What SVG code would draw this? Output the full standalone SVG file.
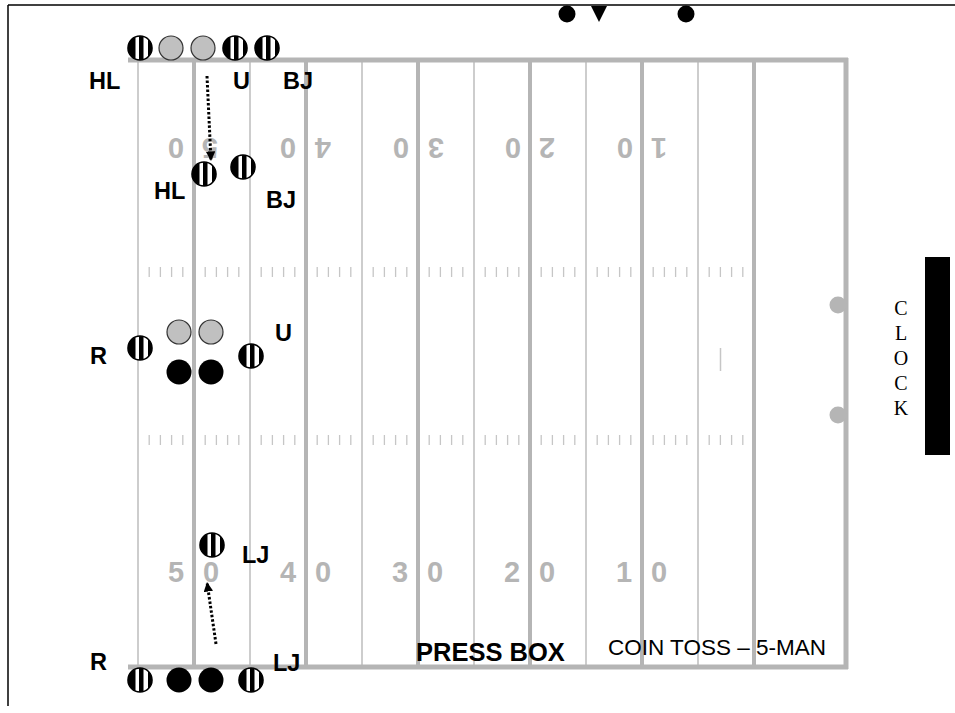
<svg xmlns="http://www.w3.org/2000/svg" xmlns:xlink="http://www.w3.org/1999/xlink" width="955" height="713" viewBox="0 0 955 713">
<style>
.thick{stroke:#b5b5b5;stroke-width:4;fill:none}
.thin{stroke:#cdcdcd;stroke-width:2;fill:none}
.side{stroke:#b5b5b5;stroke-width:5;fill:none}
.hash{stroke:#c6c6c6;stroke-width:1.3}
.num{font-family:"Liberation Sans",Arial,sans-serif;font-weight:bold;font-size:29px;fill:#b5b5b5;text-anchor:middle}
.lbl{font-family:"Liberation Sans",Arial,sans-serif;font-weight:bold;font-size:23.5px;fill:#000}
.clk{font-family:"Liberation Serif","Times New Roman",serif;font-size:20px;fill:#000;text-anchor:middle}
.gray{fill:#c0c0c0;stroke:#333;stroke-width:1.2}
.blk{fill:#000}
.dot{stroke:#000;stroke-width:3;stroke-dasharray:2.5 2;fill:none}
</style>
<defs>
<clipPath id="cc"><circle r="12"/></clipPath>
<g id="ref">
<circle r="12" fill="#fff"/>
<g clip-path="url(#cc)" fill="#000">
<rect x="-12" y="-12" width="7.5" height="24"/>
<rect x="-1" y="-12" width="4.5" height="24"/>
<rect x="8" y="-12" width="4" height="24"/>
</g>
<circle r="12" fill="none" stroke="#000" stroke-width="1.6"/>
</g>
<marker id="ah" viewBox="0 0 10 10" refX="10" refY="5" markerWidth="3.2" markerHeight="3.2" orient="auto" markerUnits="strokeWidth">
<path d="M0,0 L10,5 L0,10 z" fill="#000"/>
</marker>
</defs>
<rect width="955" height="713" fill="#fff"/>
<g id="border" stroke="#000" stroke-width="1.5">
<line x1="8" y1="5" x2="955" y2="5"/>
<line x1="8" y1="5" x2="8" y2="706"/>
</g>
<g id="field">
<g class="thin">
<line x1="138" y1="60" x2="138" y2="667"/>
<line x1="250" y1="60" x2="250" y2="667"/>
<line x1="362" y1="60" x2="362" y2="667"/>
<line x1="474" y1="60" x2="474" y2="667"/>
<line x1="586" y1="60" x2="586" y2="667"/>
<line x1="698" y1="60" x2="698" y2="667"/>
</g>
<g class="thick">
<line x1="194" y1="60" x2="194" y2="667"/>
<line x1="306" y1="60" x2="306" y2="667"/>
<line x1="418" y1="60" x2="418" y2="667"/>
<line x1="530" y1="60" x2="530" y2="667"/>
<line x1="642" y1="60" x2="642" y2="667"/>
<line x1="754" y1="60" x2="754" y2="667"/>
</g>
<g class="side">
<line x1="128" y1="60" x2="848" y2="60"/>
<line x1="128" y1="667" x2="848" y2="667"/>
<line x1="846" y1="58" x2="846" y2="669"/>
</g>
<circle cx="838" cy="305" r="8.5" fill="#b5b5b5"/>
<circle cx="838" cy="415" r="8.5" fill="#b5b5b5"/>
<line x1="720.5" y1="348" x2="720.5" y2="371" stroke="#c6c6c6" stroke-width="1.5"/>
<g class="hash" id="hashes">
<path d="M149.2,267v10M160.4,267v10M171.6,267v10M182.8,267v10M205.2,267v10M216.4,267v10M227.6,267v10M238.8,267v10M261.2,267v10M272.4,267v10M283.6,267v10M294.8,267v10M317.2,267v10M328.4,267v10M339.6,267v10M350.8,267v10M373.2,267v10M384.4,267v10M395.6,267v10M406.8,267v10M429.2,267v10M440.4,267v10M451.6,267v10M462.8,267v10M485.2,267v10M496.4,267v10M507.6,267v10M518.8,267v10M541.2,267v10M552.4,267v10M563.6,267v10M574.8,267v10M597.2,267v10M608.4,267v10M619.6,267v10M630.8,267v10M653.2,267v10M664.4,267v10M675.6,267v10M686.8,267v10M709.2,267v10M720.4,267v10M731.6,267v10M742.8,267v10"/>
<path transform="translate(0,168)" d="M149.2,267v10M160.4,267v10M171.6,267v10M182.8,267v10M205.2,267v10M216.4,267v10M227.6,267v10M238.8,267v10M261.2,267v10M272.4,267v10M283.6,267v10M294.8,267v10M317.2,267v10M328.4,267v10M339.6,267v10M350.8,267v10M373.2,267v10M384.4,267v10M395.6,267v10M406.8,267v10M429.2,267v10M440.4,267v10M451.6,267v10M462.8,267v10M485.2,267v10M496.4,267v10M507.6,267v10M518.8,267v10M541.2,267v10M552.4,267v10M563.6,267v10M574.8,267v10M597.2,267v10M608.4,267v10M619.6,267v10M630.8,267v10M653.2,267v10M664.4,267v10M675.6,267v10M686.8,267v10M709.2,267v10M720.4,267v10M731.6,267v10M742.8,267v10"/>
</g>
<g id="numbers-bottom" class="num">
<text x="176" y="582">5</text><text x="211" y="582">0</text>
<text x="288" y="582">4</text><text x="323" y="582">0</text>
<text x="400" y="582">3</text><text x="435" y="582">0</text>
<text x="512" y="582">2</text><text x="547" y="582">0</text>
<text x="624" y="582">1</text><text x="659" y="582">0</text>
</g>
<g id="numbers-top" class="num">
<text x="176" y="158" transform="rotate(180 176 148)">0</text><text x="210" y="158" transform="rotate(180 210 148)">5</text>
<text x="288" y="158" transform="rotate(180 288 148)">0</text><text x="323" y="158" transform="rotate(180 323 148)">4</text>
<text x="401" y="158" transform="rotate(180 401 148)">0</text><text x="436" y="158" transform="rotate(180 436 148)">3</text>
<text x="513" y="158" transform="rotate(180 513 148)">0</text><text x="547" y="158" transform="rotate(180 547 148)">2</text>
<text x="625" y="158" transform="rotate(180 625 148)">0</text><text x="659" y="158" transform="rotate(180 659 148)">1</text>
</g>
</g>
<g id="top-markers">
<circle cx="567" cy="14" r="8.5" fill="#000"/>
<path d="M591,6 L607,6 L599,22 z" fill="#000"/>
<circle cx="686" cy="14" r="8.5" fill="#000"/>
</g>
<g id="clock">
<rect x="925" y="257" width="25" height="198" fill="#000"/>
<text class="clk" x="901" y="315">C</text>
<text class="clk" x="901" y="340">L</text>
<text class="clk" x="901" y="365">O</text>
<text class="clk" x="901" y="390">C</text>
<text class="clk" x="901" y="415">K</text>
</g>
<g id="connectors">
<line class="dot" x1="207" y1="76" x2="211" y2="161" marker-end="url(#ah)"/>
<line class="dot" x1="216" y1="644" x2="207" y2="582" marker-end="url(#ah)"/>
</g>
<g id="top-row">
<use xlink:href="#ref" x="140" y="48"/>
<circle class="gray" cx="171" cy="48" r="12"/>
<circle class="gray" cx="203" cy="48" r="12"/>
<use xlink:href="#ref" x="235" y="48"/>
<use xlink:href="#ref" x="267" y="48"/>
</g>
<g id="hl-mid"><use xlink:href="#ref" x="204" y="174"/></g>
<g id="bj-mid"><use xlink:href="#ref" x="243" y="167"/></g>
<g id="r-mid"><use xlink:href="#ref" x="140" y="348"/></g>
<g id="captains-mid">
<circle class="gray" cx="179" cy="332" r="12"/>
<circle class="gray" cx="211" cy="332" r="12"/>
<circle class="blk" cx="179" cy="372" r="12.5"/>
<circle class="blk" cx="211" cy="372" r="12.5"/>
</g>
<g id="u-mid"><use xlink:href="#ref" x="251" y="356"/></g>
<g id="lj-mid"><use xlink:href="#ref" x="212" y="545"/></g>
<g id="bottom-row">
<use xlink:href="#ref" x="140" y="680"/>
<circle class="blk" cx="179" cy="680" r="12.5"/>
<circle class="blk" cx="211" cy="680" r="12.5"/>
<use xlink:href="#ref" x="251" y="680"/>
</g>
<g id="labels" class="lbl">
<text x="89" y="89">HL</text>
<text x="233" y="89">U</text>
<text x="283" y="89">BJ</text>
<text x="154" y="199">HL</text>
<text x="266" y="208">BJ</text>
<text x="90" y="364">R</text>
<text x="275" y="341">U</text>
<text x="242" y="563">LJ</text>
<text x="90" y="670">R</text>
<text x="273" y="671">LJ</text>
</g>
<g id="captions">
<text x="416" y="661" font-family="Liberation Sans,Arial,sans-serif" font-weight="bold" font-size="25.5px">PRESS BOX</text>
<text x="608" y="655" font-family="Liberation Sans,Arial,sans-serif" font-size="22.5px">COIN TOSS – 5-MAN</text>
</g>
</svg>
